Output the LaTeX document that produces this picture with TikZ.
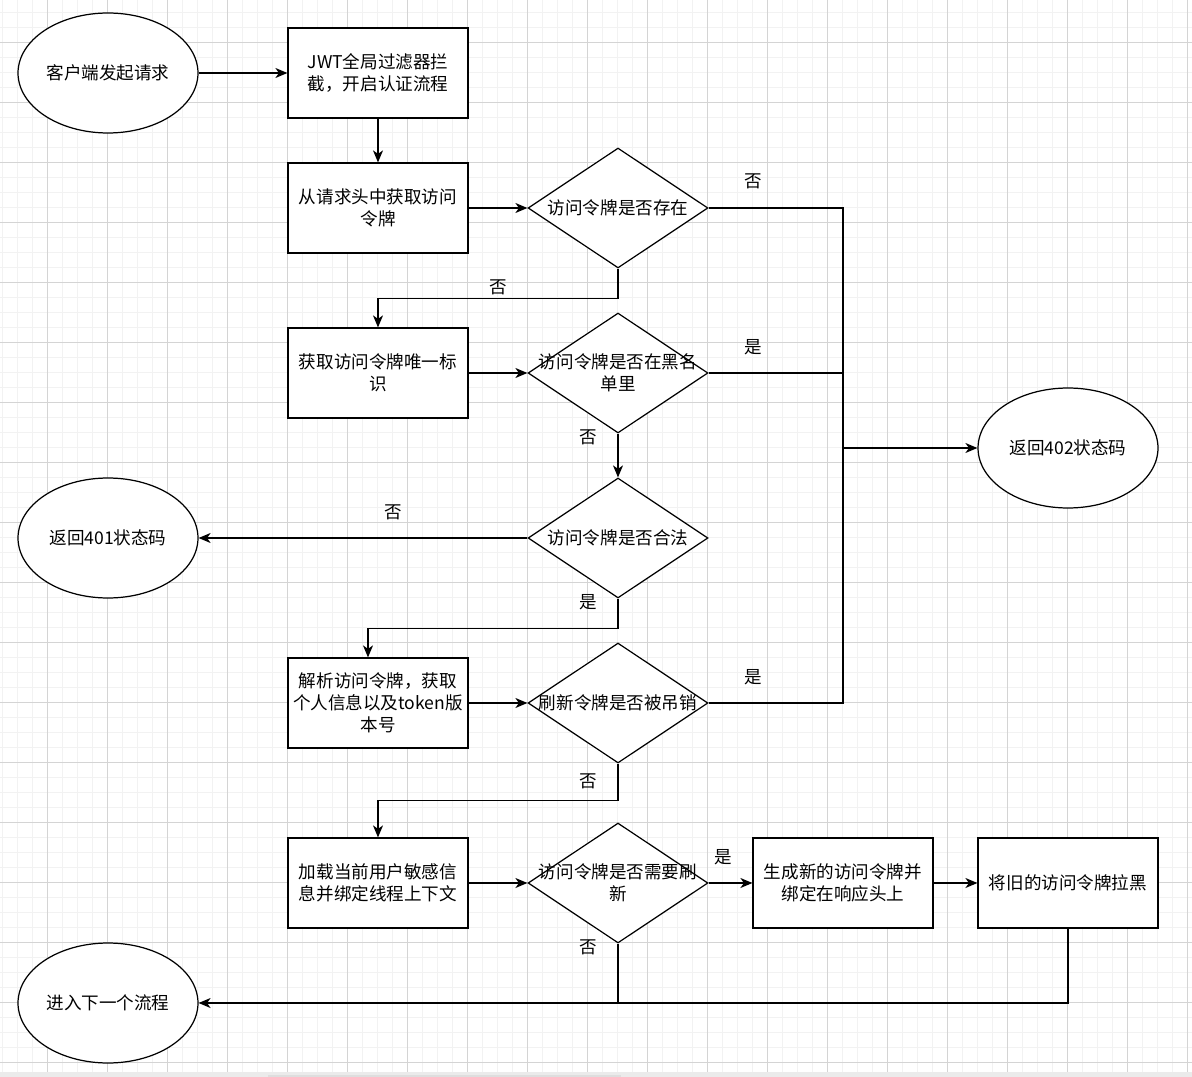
\documentclass[tikz,border=0pt]{standalone}
\usepackage{fontspec}
\setmainfont{Noto Sans CJK SC}
\usetikzlibrary{arrows.meta,shapes.geometric}

\begin{document}
\begin{tikzpicture}[x=0.02cm, y=-0.02cm, every node/.style={font=\fontsize{10}{12.5}\selectfont},
  box/.style={draw,fill=white,line width=0.7pt,minimum width=3.6cm,minimum height=1.8cm,align=center,inner sep=0pt},
  oval/.style={ellipse,draw,fill=white,line width=0.7pt,minimum width=3.6cm,minimum height=2.4cm,inner sep=0pt},
  dec/.style={diamond,draw,fill=white,line width=0.7pt,minimum width=3.6cm,minimum height=2.4cm,inner sep=0pt},
  txt/.style={align=center,inner sep=0pt},
  lab/.style={inner sep=0pt},
  line/.style={line width=0.7pt},
  arr/.style={line,-{Stealth[length=2.4mm,width=2mm,inset=0.7mm]}},
  gminor/.style={draw=black!5,line width=0.02cm},
  gmajor/.style={draw=black!17,line width=0.02cm}]
\useasboundingbox (0,0) rectangle (1192,1077);
\fill[white] (0,0) rectangle (1192,1077);
% grid
\foreach \k in {0,...,79} \draw[gminor] ({2.3+15*\k},0) -- ({2.3+15*\k},1072);
\foreach \k in {0,...,70} \draw[gminor] (0,{12.3+15*\k}) -- (1192,{12.3+15*\k});
\foreach \k in {0,...,19} \draw[gmajor] ({47.3+60*\k},0) -- ({47.3+60*\k},1072);
\foreach \k in {0,...,17} \draw[gmajor] (0,{42.3+60*\k}) -- (1192,{42.3+60*\k});
\fill[black!8] (0,1072) rectangle (1192,1077);
\fill[black!13] (268,1075) rectangle (621,1077);

% nodes
\node[oval] (start) at (108,73) {客户端发起请求};
\node[box] (filter) at (378,73) {JWT全局过滤器拦\\截，开启认证流程};
\node[box] (gettok) at (378,208) {从请求头中获取访问\\令牌};
\node[dec] (exist) at (618,208) {};
\node[txt] (existt) at (exist) {访问令牌是否存在};
\node[box] (getid) at (378,373) {获取访问令牌唯一标\\识};
\node[dec] (black) at (618,373) {};
\node[txt] (blackt) at (black) {访问令牌是否在黑名\\单里};
\node[oval] (r402) at (1068,448) {返回402状态码};
\node[dec] (valid) at (618,538) {};
\node[txt] (validt) at (valid) {访问令牌是否合法};
\node[oval] (r401) at (108,538) {返回401状态码};
\node[box] (parse) at (378,703) {解析访问令牌，获取\\个人信息以及token版\\本号};
\node[dec] (revoke) at (618,703) {};
\node[txt] (revoket) at (revoke) {刷新令牌是否被吊销};
\node[box] (load) at (378,883) {加载当前用户敏感信\\息并绑定线程上下文};
\node[dec] (refresh) at (618,883) {};
\node[txt] (refresht) at (refresh) {访问令牌是否需要刷\\新};
\node[box] (newtok) at (843,883) {生成新的访问令牌并\\绑定在响应头上};
\node[box] (ban) at (1068,883) {将旧的访问令牌拉黑};
\node[oval] (next) at (108,1003) {进入下一个流程};

% branch labels
\node[lab] (l1) at (753,181) {否};
\node[lab] (l2) at (498,287) {否};
\node[lab] (l3) at (753,347) {是};
\node[lab] (l4) at (588,437) {否};
\node[lab] (l5) at (393,512) {否};
\node[lab] (l6) at (588,602) {是};
\node[lab] (l7) at (753,677) {是};
\node[lab] (l8) at (588,781) {否};
\node[lab] (l9) at (723,857) {是};
\node[lab] (l10) at (588,947) {否};

% connectors
\coordinate (j402) at (843,448);
\coordinate (jnext) at (618,1003);
\draw[arr] (start) -- (filter);
\draw[arr] (filter) -- (gettok);
\draw[arr] (gettok) -- (exist);
\draw[line] (exist.east) -| (j402);
\draw[line] (black.east) -| (j402);
\draw[line] (revoke.east) -| (j402);
\draw[arr] (j402) -- (r402);
\draw[arr] (exist.south) -- ++(0,30) -| (getid.north);
\draw[arr] (getid) -- (black);
\draw[arr] (black) -- (valid);
\draw[arr] (valid) -- (r401);
\draw[arr] (valid.south) -- ++(0,30) -| ([xshift=-0.2cm]parse.north);
\draw[arr] (parse) -- (revoke);
\draw[arr] (revoke.south) -- ++(0,37) -| (load.north);
\draw[arr] (load) -- (refresh);
\draw[arr] (refresh) -- (newtok);
\draw[arr] (newtok) -- (ban);
\draw[line] (refresh.south) -- (jnext);
\draw[line] (ban.south) |- (jnext);
\draw[arr] (jnext) -- (next);
\end{tikzpicture}
\end{document}
